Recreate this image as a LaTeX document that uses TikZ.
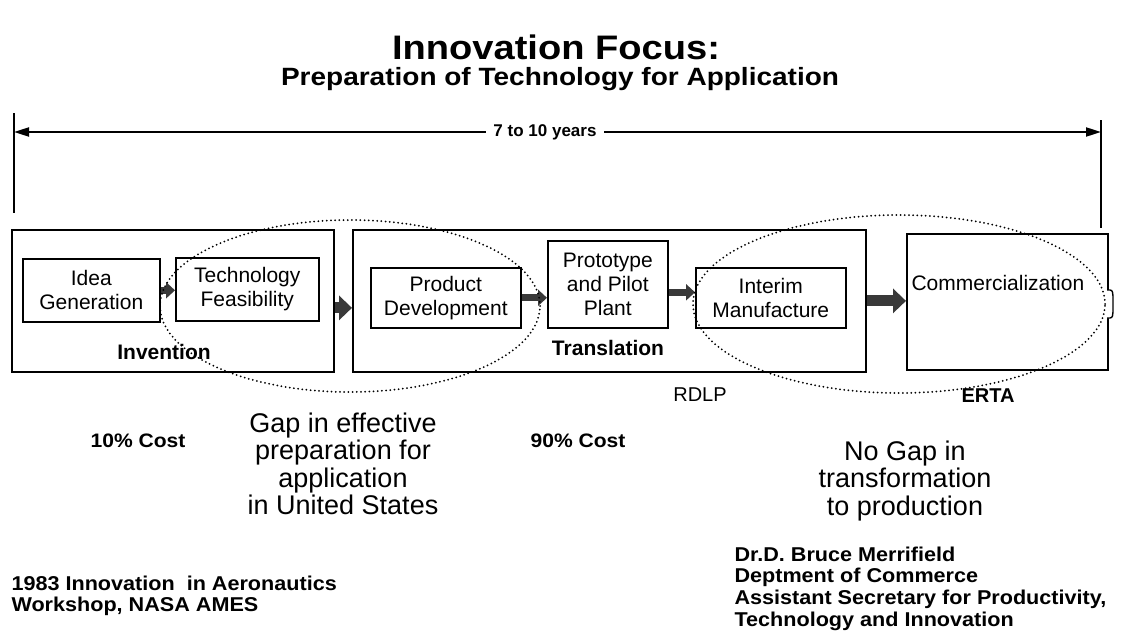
\documentclass[tikz,border=0pt]{standalone}
\usepackage{fontspec}
\setmainfont{Liberation Sans}
\newfontfamily\widefont[FakeStretch=1.12]{Liberation Sans}
\newfontfamily\midfont[FakeStretch=1.08]{Liberation Sans}
\usetikzlibrary{arrows.meta,calc,shapes.geometric}
\newcommand\fsz[2]{\fontsize{#1}{#2}\selectfont}
\begin{document}
\begin{tikzpicture}[x=1pt,y=-1pt,
  bigbox/.style={draw, line width=1.8pt, inner sep=0pt, anchor=north west},
  box/.style={draw, line width=1.6pt, inner sep=0pt, anchor=north west, align=center, font=\fsz{21}{24}},
  lbl/.style={font=\bfseries\fsz{21}{23}},
  sarrow/.style={line width=7pt, draw=gray!45!black, -{Triangle[length=9pt,width=16pt]}},
  barrow/.style={line width=11pt, draw=gray!45!black, -{Triangle[length=13pt,width=24pt]}},
  gap/.style={ellipse, draw, line width=2pt, dash pattern=on 0pt off 4.2pt, line cap=round, inner sep=0pt},
  big/.style={align=center, font=\fsz{27}{27.5}},
  foot/.style={align=left, anchor=north west, font=\midfont\bfseries\fsz{20}{21.7}},
  cost/.style={font=\midfont\bfseries\fsz{19.5}{22}},
  tick/.style={line width=1.6pt}]
\fill[white] (0,0) rectangle (1122,637);
\useasboundingbox (0,0) rectangle (1122,637);

% titles
\node[font=\widefont\bfseries\fsz{34}{36}] (title) at (556,47) {Innovation Focus:};
\node[font=\widefont\bfseries\fsz{25}{27}] (sub) at (560,79) {Preparation of Technology for Application};

% timeline
\coordinate (lt) at (14,113); \coordinate (lb) at (14,213);
\coordinate (rt) at (1101,120); \coordinate (rb) at (1101,228);
\coordinate (tl) at (14,132); \coordinate (tr) at (1101,132);
\draw[tick] (lt) -- (lb);
\draw[tick] (rt) -- (rb);
\draw[line width=2pt, {Triangle[length=15pt,width=9pt]}-{Triangle[length=15pt,width=9pt]}] (tl) -- (tr);
\node[fill=white, font=\bfseries\fsz{17}{19}, inner xsep=7pt] (years) at (545,132) {7 to 10 years};

% big boxes
\node[bigbox, minimum width=322pt, minimum height=142pt] (inv) at (11,229) {};
\node[bigbox, minimum width=513pt, minimum height=142pt] (trans) at (352,229) {};
\node[bigbox, minimum width=201pt, minimum height=136pt] (comm) at (906,233) {};

% inner boxes
\node[box, minimum width=137pt, minimum height=63pt] (idea) at (22,258) {Idea\\Generation};
\node[box, minimum width=143pt, minimum height=63pt] (tech) at (175,257) {Technology\\Feasibility};
\node[box, minimum width=150pt, minimum height=60pt] (pd) at (370,267) {Product\\Development};
\node[box, minimum width=120pt, minimum height=87pt] (proto) at (547,240) {Prototype\\and Pilot\\Plant};
\node[box, minimum width=150pt, minimum height=60pt] (interim) at (695,267) {Interim\\Manufacture};

% labels in boxes
\node[lbl] (invl) at (164,352) {Invention};
\node[lbl] (transl) at (608,348) {Translation};
\node[font=\fsz{21}{23}, anchor=west] (commt) at (908,283) {Commercialization};

% small bracket on right side of commercialization box
\draw[line width=1.4pt, fill=white] (1107,290) -- (1110,290) to[out=0,in=90] (1113,296) -- (1113,312) to[out=-90,in=0] (1110,318) -- (1107,318);

% arrows
\draw[sarrow] (idea.east) -- (idea.east -| tech.west);
\draw[barrow] ([yshift=-7pt]inv.east) -- ([yshift=-7pt]inv.east -| trans.west);
\draw[sarrow] (pd.east) -- (pd.east -| proto.west);
\draw[sarrow] ([yshift=-8pt]proto.east) -- ([yshift=-8pt]proto.east -| interim.west);
\draw[barrow] (trans.east) -- (trans.east -| comm.west);

% dotted ellipses
\node[gap, minimum width=380pt, minimum height=172pt] (gap1) at (350,306) {};
\node[gap, minimum width=412pt, minimum height=178pt] (gap2) at (899,304) {};

% labels under
\node[font=\fsz{20}{22}] (rdlp) at (700,395) {RDLP};
\node[font=\bfseries\fsz{20}{22}] (erta) at (988,396) {ERTA};
\node[cost] (c10) at (138,441) {10\% Cost};
\node[cost] (c90) at (578,441) {90\% Cost};
\node[big] (gaptext) at (343,464) {Gap in effective\\preparation for\\application\\in United States};
\node[big] (nogap) at (905,481) {No Gap in\\transformation\\to production};

% footers
\node[foot] (ws) at (8,572) {1983 Innovation\ \ in Aeronautics\\Workshop, NASA AMES};
\node[foot] (author) at (731,543) {Dr.D. Bruce Merrifield\\Deptment of Commerce\\Assistant Secretary for Productivity,\\Technology and Innovation};
\end{tikzpicture}
\end{document}
